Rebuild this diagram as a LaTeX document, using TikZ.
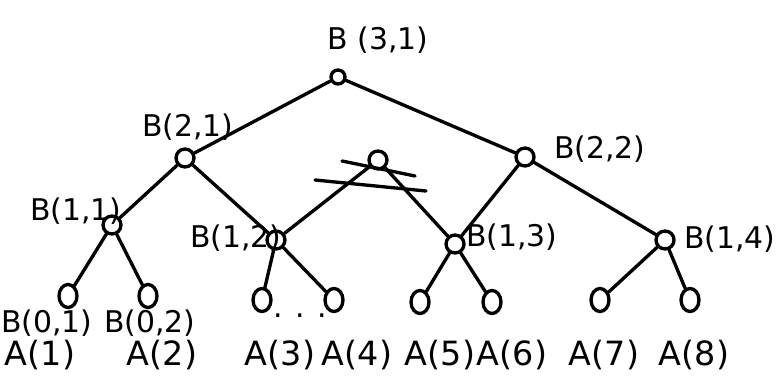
\documentclass[tikz,border=0pt]{standalone}
\usepackage{fontspec}
\setsansfont{DejaVu Sans}
\usetikzlibrary{positioning,shapes.geometric}
\tikzset{
  font=\sffamily,
  edge/.style={draw=black, line width=1.9pt, line cap=round},
  strike/.style={draw=black, line width=1.9pt, line cap=round},
  vertex/.style={circle, draw=black, line width=1.9pt, minimum size=0.36cm, inner sep=0pt},
  rootVertex/.style={circle, draw=black, line width=1.9pt, minimum size=0.28cm, inner sep=0pt},
  leafVertex/.style={ellipse, draw=black, line width=1.9pt, minimum width=0.36cm, minimum height=0.46cm, inner sep=0pt},
  bLabel/.style={font=\sffamily\fontsize{17}{19}\selectfont, inner sep=1pt},
  aLabel/.style={font=\sffamily\fontsize{19}{21}\selectfont, inner sep=1pt}
}

\begin{document}
\begin{tikzpicture}[x=0.02cm,y=-0.02cm]
\useasboundingbox (0,0) rectangle (781,385);

% --------------------------------------------------------------------------
% Internal nodes
% --------------------------------------------------------------------------
\node[rootVertex] (nRoot) at (338,77) {};
\node[vertex] (nB21) at (185,158) {};
\node[vertex] (nMid) at (378,160) {};
\node[vertex] (nB22) at (525,157) {};
\node[vertex] (nB11) at (112,225) {};
\node[vertex] (nB12) at (276,240) {};
\node[vertex] (nB13) at (455,244) {};
\node[vertex] (nB14) at (665,240) {};

% --------------------------------------------------------------------------
% Leaves
% --------------------------------------------------------------------------
\node[leafVertex] (nL1) at (68,296) {};
\node[leafVertex] (nL2) at (148,296) {};
\node[leafVertex] (nL3) at (262,300) {};
\node[leafVertex] (nL4) at (334,300) {};
\node[leafVertex] (nL5) at (420,302) {};
\node[leafVertex] (nL6) at (492,302) {};
\node[leafVertex] (nL7) at (600,300) {};
\node[leafVertex] (nL8) at (690,300) {};

% --------------------------------------------------------------------------
% Edges
% --------------------------------------------------------------------------
\draw[edge] (nRoot) -- (nB21);
\draw[edge] (nRoot) -- (nB22);
\draw[edge] (nB21) -- (nB11);
\draw[edge] (nB21) -- (nB12);
\draw[edge] (nMid) -- (nB12);
\draw[edge] (nMid) -- (nB13);
\draw[edge] (nB22) -- (nB13);
\draw[edge] (nB22) -- (nB14);
\draw[edge] (nB11) -- (nL1);
\draw[edge] (nB11) -- (nL2);
\draw[edge] (nB12) -- (nL3);
\draw[edge] (nB12) -- (nL4);
\draw[edge] (nB13) -- (nL5);
\draw[edge] (nB13) -- (nL6);
\draw[edge] (nB14) -- (nL7);
\draw[edge] (nB14) -- (nL8);

% crossed-out node
\coordinate (sA1) at (342,161);
\coordinate (sA2) at (415,176);
\coordinate (sB1) at (315,180);
\coordinate (sB2) at (426,191);
\draw[strike] (sA1) -- (sA2);
\draw[strike] (sB1) -- (sB2);

% --------------------------------------------------------------------------
% Labels
% --------------------------------------------------------------------------
\node[bLabel] (tB31) at (378,40) {B (3,1)};
\node[bLabel] (tB21) at (188,127) {B(2,1)};
\node[bLabel] (tB22) at (600,149) {B(2,2)};
\node[bLabel] (tB11) at (76,211) {B(1,1)};
\node[bLabel] (tB12) at (236,238) {B(1,2)};
\node[bLabel] (tB13) at (512,237) {B(1,3)};
\node[bLabel] (tB14) at (730,239) {B(1,4)};
\node[bLabel] (tB01) at (47,323) {B(0,1)};
\node[bLabel] (tB02) at (150,323) {B(0,2)};
\node[bLabel] (tDots) at (300,316) {. . .};

\node[aLabel] (tA1) at (40,355) {A(1)};
\node[aLabel] (tA2) at (162,355) {A(2)};
\node[aLabel] (tA3) at (280,355) {A(3)};
\node[aLabel] (tA4) at (357,355) {A(4)};
\node[aLabel] (tA5) at (440,355) {A(5)};
\node[aLabel] (tA6) at (512,355) {A(6)};
\node[aLabel] (tA7) at (604,355) {A(7)};
\node[aLabel] (tA8) at (694,355) {A(8)};

\end{tikzpicture}
\end{document}
